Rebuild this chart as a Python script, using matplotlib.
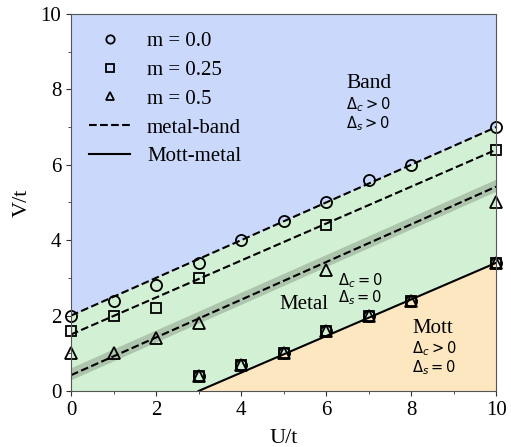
import matplotlib
matplotlib.use("Agg")
import matplotlib.pyplot as plt
import numpy as np
from matplotlib.lines import Line2D

plt.rcParams['font.family'] = ['Liberation Serif', 'DejaVu Serif']
plt.rcParams['mathtext.fontset'] = 'dejavusans'

# Boundary lines (U range and V at ends)
U_line = [0, 10]
mb_m00 = [2.0, 7.0]
mb_m025 = [1.5, 6.4]
mb_m05 = [0.42, 5.42]
mott_U = [3, 10]
mott_V = [0.0, 3.4]

# Data points
U_m00 = [0, 1, 2, 3, 4, 5, 6, 7, 8, 10]
V_m00 = [2.0, 2.4, 2.8, 3.4, 4.0, 4.5, 5.0, 5.6, 6.0, 7.0]
U_m025 = [0, 1, 2, 3, 6, 10]
V_m025 = [1.6, 2.0, 2.2, 3.0, 4.4, 6.4]
U_m05 = [0, 1, 2, 3, 6, 10]
V_m05 = [1.0, 1.0, 1.4, 1.8, 3.2, 5.0]
U_mott = [3, 4, 5, 6, 7, 8, 10]
V_mott = [0.4, 0.7, 1.0, 1.6, 2.0, 2.4, 3.4]

fig = plt.figure(figsize=(5.11, 4.47), dpi=100)
ax = fig.add_axes([0.139, 0.1253, 0.832, 0.8434])

Ux = np.linspace(0, 10, 201)
top = np.interp(Ux, U_line, mb_m00)
mott = np.where(Ux < mott_U[0], 0.0, np.interp(Ux, mott_U, mott_V))

ax.fill_between(Ux, top, 10, color='#c9d8fb', lw=0)
ax.fill_between(Ux, mott, top, color='#d2f0d3', lw=0)
ax.fill_between(Ux, 0, mott, color='#fde7c0', lw=0)
m05 = np.interp(Ux, U_line, mb_m05)
ax.fill_between(Ux, m05 - 0.12, m05 + 0.2, color='#adc4ad', lw=0)

ax.plot(U_line, mb_m00, 'k--', lw=1.5)
ax.plot(U_line, mb_m025, 'k--', lw=1.5)
ax.plot(U_line, mb_m05, 'k--', lw=1.5)
ax.plot(mott_U, mott_V, 'k-', lw=1.5)

mk = dict(ls='none', mfc='none', mec='black', mew=1.3, ms=8, clip_on=False)
ax.plot(U_m00, V_m00, marker='o', **mk)
ax.plot(U_m025, V_m025, marker='s', **dict(mk, ms=7))
ax.plot(U_m05, V_m05, marker='^', **mk)
ax.plot(U_mott, V_mott, marker='o', **mk)
ax.plot(U_mott, V_mott, marker='s', **dict(mk, ms=7))
ax.plot(U_mott, V_mott, marker='^', **mk)

handles = [
    Line2D([], [], ls='none', marker='o', mfc='none', mec='k', mew=1.3, ms=6),
    Line2D([], [], ls='none', marker='s', mfc='none', mec='k', mew=1.3, ms=6),
    Line2D([], [], ls='none', marker='^', mfc='none', mec='k', mew=1.3, ms=6),
    Line2D([], [], ls='--', color='k', lw=1.5),
    Line2D([], [], ls='-', color='k', lw=1.5),
]
labels = ['m = 0.0', 'm = 0.25', 'm = 0.5', 'metal-band', 'Mott-metal']
ax.legend(handles, labels, loc='upper left', frameon=False, fontsize=15,
          handlelength=2.0, handletextpad=0.8, borderaxespad=0.45,
          labelspacing=0.44)

ax.text(6.47, 8.05, 'Band', fontsize=15.5)
ax.text(6.47, 7.47, r'$\Delta_c > 0$', fontsize=10.5)
ax.text(6.47, 6.97, r'$\Delta_s > 0$', fontsize=10.5)
ax.text(4.9, 2.18, 'Metal', fontsize=15)
ax.text(6.28, 2.80, r'$\Delta_c = 0$', fontsize=10.5)
ax.text(6.28, 2.35, r'$\Delta_s = 0$', fontsize=10.5)
ax.text(8.02, 1.55, 'Mott', fontsize=15)
ax.text(8.02, 1.0, r'$\Delta_c > 0$', fontsize=10.5)
ax.text(8.02, 0.49, r'$\Delta_s = 0$', fontsize=10.5)

ax.set_xlim(0, 10)
ax.set_ylim(0, 10)
ax.set_xticks([0, 2, 4, 6, 8, 10])
ax.set_yticks([0, 2, 4, 6, 8, 10])
ax.set_xticks(np.arange(1, 10, 2), minor=True)
ax.set_yticks(np.arange(1, 10, 2), minor=True)
ax.tick_params(labelsize=15, direction='out', colors='#333333', labelcolor='black')
ax.tick_params(which='minor', length=2.5, colors='#333333')
for s in ax.spines.values():
    s.set_color('#555555')
ax.set_xlabel('U/t', fontsize=16, labelpad=7)
ax.set_ylabel('V/t', fontsize=16, labelpad=6)

fig.savefig('out.png', dpi=100)
